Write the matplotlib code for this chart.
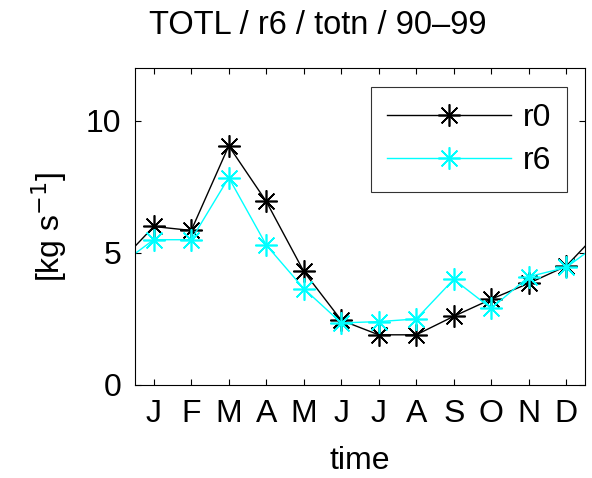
import matplotlib
matplotlib.use("Agg")
import matplotlib.pyplot as plt

plt.rcParams['font.family'] = ['Liberation Sans', 'DejaVu Sans']

months = ['J', 'F', 'M', 'A', 'M', 'J', 'J', 'A', 'S', 'O', 'N', 'D']
r0 = [6.0, 5.85, 9.05, 6.95, 4.3, 2.45, 1.9, 1.9, 2.6, 3.25, 3.85, 4.5]
r6 = [5.5, 5.5, 7.85, 5.3, 3.65, 2.35, 2.4, 2.5, 4.0, 2.9, 4.1, 4.45]
series_names = ['r0', 'r6']
series_colors = ['black', 'cyan']
title = 'TOTL / r6 / totn / 90\u201399'

fig = plt.figure(figsize=(5.92, 4.78), dpi=100)
ax = fig.add_axes([135/592, 1-385/478, 450/592, 317/478])

x = list(range(1, 13))
# cyclic wrap (Dec before Jan, Jan after Dec) so the line runs to the axis edges
xw = [0] + x + [13]
asterisk = (8, 2, 0)
for vals, name, col in zip([r0, r6], series_names, series_colors):
    yw = [vals[-1]] + vals + [vals[0]]
    ax.plot(xw, yw, color=col, lw=1.0, marker=asterisk, markersize=16,
            markeredgewidth=1.2, label=name)

ax.set_xlim(0.5, 12.5)
ax.set_ylim(0, 12)
ax.set_xticks(x)
ax.set_xticklabels(months)
ax.set_yticks([0, 5, 10])
ax.tick_params(direction='in', length=4, width=0.8, top=True, right=True,
               labelsize=23, pad=10)
for s in ax.spines.values():
    s.set_linewidth(0.8)
ax.set_xlabel('time', fontsize=23, labelpad=12)
ax.set_ylabel('[kg s$^{-1}$]', fontsize=23, labelpad=12)

leg = ax.legend(loc='upper right', bbox_to_anchor=(567/592, 1-87/478),
                bbox_transform=fig.transFigure, fontsize=23, frameon=True,
                fancybox=False, edgecolor='black', handlelength=3.9,
                borderpad=0.5, labelspacing=0.4, handletextpad=0.35,
                borderaxespad=0)
leg.get_frame().set_linewidth(0.8)

fig.text(318/592, 1-25/478, title, ha='center', va='center', fontsize=23.5)

fig.savefig('out.png', dpi=100)
